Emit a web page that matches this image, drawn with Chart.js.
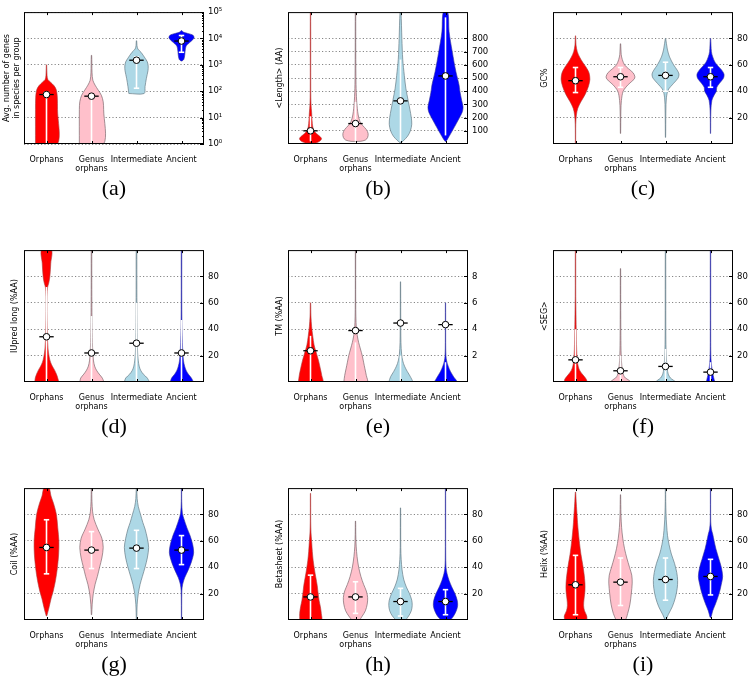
<!DOCTYPE html>
<html>
<head>
<meta charset="utf-8">
<script src="https://cdn.jsdelivr.net/npm/chart.js@4.4.0/dist/chart.umd.min.js"></script>
<style>
  body { margin: 0; background: #fff; width: 750px; height: 680px; overflow: hidden; position: relative; }
  .tag { position: absolute; width: 100px; height: 26px; line-height: 26px; text-align: center;
         font: 22px 'Liberation Serif', serif; color: #000; }
</style>
</head>
<body>
<script>
const categories = ['Orphans', ['Genus', 'orphans'], 'Intermediate', 'Ancient'];
const violinFill = ['#ff0000', '#ffc0cb', '#add8e6', '#0000ff'];
const violinEdge = ['rgba(170,60,60,0.75)', 'rgba(120,100,105,0.85)', 'rgba(100,120,130,0.85)', 'rgba(50,50,150,0.75)'];
const superscripts = ['\u2070', '\u00b9', '\u00b2', '\u00b3', '\u2074', '\u2075'];

const genesTicks = [1, 10, 100, 1000, 10000, 100000];
const lengthTicks = [100, 200, 300, 400, 500, 600, 700, 800];
const percentTicks = [20, 40, 60, 80];
const tmTicks = [2, 4, 6, 8];

// shapes: [value, half width in category units], bottom to top

// (a) genes per group
const genesMean = [75, 65, 1500, 8000];
const genesLow = [1, 1, 130, 3000];
const genesHigh = [90, 70, 2000, 13000];
const genesShapes = [
  [[1, 0.245], [20, 0.245], [60, 0.24], [110, 0.22], [160, 0.17], [220, 0.09], [280, 0.03], [400, 0.012], [1000, 0.004]],
  [[1, 0.27], [20, 0.27], [40, 0.26], [70, 0.22], [110, 0.15], [170, 0.08], [260, 0.03], [500, 0.012], [2300, 0.004]],
  [[82, 0.17], [150, 0.19], [310, 0.22], [600, 0.255], [900, 0.26], [1300, 0.24], [1800, 0.19], [3000, 0.1], [4000, 0.03], [5500, 0.01], [8200, 0.004]],
  [[1400, 0.01], [1600, 0.05], [2200, 0.07], [3200, 0.08], [5000, 0.1], [7000, 0.18], [9000, 0.25], [11000, 0.28], [13500, 0.25], [15500, 0.14], [17500, 0.04], [20000, 0.004]]
];

// (b) length
const lengthMean = [100, 155, 327, 516];
const lengthLow = [20, 20, 20, 65];
const lengthHigh = [210, 320, 640, 960];
const lengthShapes = [
  [[8, 0.12], [20, 0.2], [40, 0.245], [60, 0.2], [80, 0.13], [100, 0.08], [130, 0.05], [180, 0.035], [240, 0.025], [300, 0.012], [400, 0.006], [1000, 0.004]],
  [[20, 0.1], [30, 0.22], [50, 0.27], [80, 0.28], [110, 0.24], [140, 0.16], [170, 0.1], [220, 0.06], [270, 0.04], [330, 0.025], [450, 0.012], [700, 0.006], [1000, 0.004]],
  [[12, 0.02], [30, 0.08], [60, 0.16], [100, 0.22], [150, 0.25], [200, 0.24], [260, 0.21], [330, 0.17], [420, 0.12], [520, 0.085], [640, 0.05], [800, 0.03], [1000, 0.01]],
  [[20, 0.01], [40, 0.05], [75, 0.11], [130, 0.2], [180, 0.28], [240, 0.37], [280, 0.39], [330, 0.36], [400, 0.32], [450, 0.3], [550, 0.23], [700, 0.15], [850, 0.08], [1000, 0.05]]
];

// (c) GC%
const gcMean = [48, 51, 52, 51];
const gcLow = [39, 43, 40, 43];
const gcHigh = [58, 58, 62, 58];
const gcShapes = [
  [[0, 0.003], [15, 0.006], [22, 0.02], [27, 0.05], [32, 0.12], [38, 0.22], [44, 0.29], [49, 0.32], [54, 0.3], [58, 0.24], [62, 0.16], [66, 0.09], [70, 0.04], [75, 0.012], [82, 0.004]],
  [[8, 0.003], [25, 0.008], [33, 0.02], [40, 0.06], [45, 0.17], [49, 0.3], [51, 0.32], [54, 0.28], [57, 0.18], [60, 0.09], [64, 0.04], [68, 0.015], [76, 0.004]],
  [[5, 0.003], [25, 0.008], [35, 0.02], [41, 0.06], [46, 0.18], [50, 0.28], [53, 0.3], [56, 0.26], [60, 0.18], [66, 0.09], [72, 0.04], [80, 0.004]],
  [[8, 0.003], [25, 0.008], [33, 0.03], [37, 0.08], [40, 0.13], [43, 0.14], [46, 0.2], [50, 0.29], [53, 0.3], [56, 0.25], [59, 0.17], [62, 0.1], [66, 0.05], [70, 0.02], [80, 0.004]]
];

// (d) IUpred long
const iupredMean = [34.3, 22, 29.4, 22];
const iupredLow = [0, 0, 0, 0];
const iupredHigh = [72, 50, 60, 47];
const iupredShapes = [
  [[0, 0.26], [3, 0.25], [6, 0.22], [9, 0.18], [12, 0.13], [15, 0.09], [19, 0.06], [25, 0.035], [35, 0.02], [50, 0.012], [65, 0.012], [72, 0.025], [75, 0.05], [80, 0.075], [90, 0.095], [100, 0.11]],
  [[0, 0.26], [3, 0.24], [6, 0.17], [9, 0.11], [12, 0.07], [16, 0.045], [22, 0.03], [30, 0.02], [45, 0.012], [60, 0.008], [80, 0.006], [100, 0.005]],
  [[0, 0.27], [3, 0.24], [6, 0.15], [9, 0.09], [12, 0.06], [16, 0.04], [22, 0.025], [30, 0.018], [45, 0.012], [70, 0.008], [100, 0.006]],
  [[0, 0.25], [3, 0.22], [6, 0.15], [9, 0.1], [12, 0.07], [16, 0.045], [22, 0.03], [30, 0.02], [40, 0.012], [50, 0.008], [70, 0.006], [100, 0.005]]
];

// (e) TM
const tmMean = [2.37, 3.9, 4.47, 4.35];
const tmLow = [0, 0, 0, 0];
const tmHigh = [3.5, 3, 2, 1.5];
const tmShapes = [
  [[0, 0.27], [0.5, 0.25], [1, 0.22], [1.6, 0.18], [2.2, 0.13], [2.8, 0.08], [3.5, 0.05], [4.2, 0.025], [5, 0.01], [6, 0.004]],
  [[0, 0.26], [0.5, 0.24], [1, 0.21], [1.5, 0.18], [2, 0.15], [2.5, 0.11], [3, 0.07], [3.5, 0.04], [4, 0.02], [5, 0.008], [7, 0.004], [10, 0.003]],
  [[0, 0.26], [0.4, 0.22], [0.8, 0.15], [1.2, 0.09], [1.6, 0.05], [2.1, 0.025], [3, 0.01], [5, 0.005], [7.6, 0.003]],
  [[0, 0.25], [0.4, 0.18], [0.8, 0.11], [1.2, 0.06], [1.6, 0.025], [2, 0.01], [3, 0.004], [6, 0.003]]
];

// (f) SEG
const segMean = [16.8, 8.5, 11.8, 7.5];
const segLow = [0, 0, 0, 0];
const segHigh = [40, 20, 25, 15];
const segShapes = [
  [[0, 0.25], [2, 0.24], [4, 0.2], [6, 0.15], [9, 0.09], [12, 0.06], [16, 0.04], [25, 0.025], [40, 0.016], [55, 0.01], [65, 0.006], [100, 0.004]],
  [[0, 0.22], [1.5, 0.18], [3, 0.11], [5, 0.07], [8, 0.045], [12, 0.03], [20, 0.015], [35, 0.008], [60, 0.005], [86, 0.003]],
  [[0, 0.22], [1.5, 0.17], [3, 0.11], [6, 0.06], [10, 0.04], [15, 0.025], [25, 0.012], [40, 0.007], [100, 0.004]],
  [[0, 0.09], [2, 0.08], [5, 0.06], [8, 0.045], [12, 0.025], [18, 0.01], [30, 0.005], [100, 0.004]]
];

// (g) coil
const coilMean = [55, 53, 54.5, 53];
const coilLow = [35, 39, 39, 42];
const coilHigh = [76, 67, 68, 64];
const coilShapes = [
  [[3, 0.005], [6, 0.03], [10, 0.06], [16, 0.1], [22, 0.15], [30, 0.2], [39, 0.24], [50, 0.27], [60, 0.275], [70, 0.25], [80, 0.22], [88, 0.16], [94, 0.1], [100, 0.055]],
  [[4, 0.004], [12, 0.015], [20, 0.04], [27, 0.08], [33, 0.13], [40, 0.18], [47, 0.23], [55, 0.26], [62, 0.23], [69, 0.14], [76, 0.06], [82, 0.025], [90, 0.01], [100, 0.004]],
  [[0, 0.004], [12, 0.015], [20, 0.04], [27, 0.08], [33, 0.13], [40, 0.19], [47, 0.24], [55, 0.27], [62, 0.24], [69, 0.19], [74, 0.14], [80, 0.09], [86, 0.04], [92, 0.015], [100, 0.004]],
  [[0, 0.003], [22, 0.008], [27, 0.025], [32, 0.07], [38, 0.15], [44, 0.22], [51, 0.27], [57, 0.25], [64, 0.19], [70, 0.12], [76, 0.06], [81, 0.02], [90, 0.005], [100, 0.003]]
];

// (h) betasheet
const betaMean = [17.5, 17.5, 14, 14];
const betaLow = [0, 5, 3, 4];
const betaHigh = [34, 29, 24, 23];
const betaShapes = [
  [[0, 0.24], [5, 0.24], [10, 0.22], [15, 0.19], [20, 0.17], [26, 0.15], [32, 0.12], [38, 0.09], [45, 0.06], [52, 0.04], [60, 0.025], [66, 0.012], [75, 0.005], [96, 0.003]],
  [[0, 0.08], [3, 0.15], [7, 0.22], [12, 0.26], [17, 0.27], [22, 0.24], [27, 0.18], [33, 0.12], [40, 0.07], [48, 0.035], [56, 0.015], [65, 0.006], [75, 0.003]],
  [[0, 0.1], [3, 0.18], [7, 0.24], [11, 0.26], [15, 0.25], [20, 0.2], [25, 0.13], [31, 0.07], [38, 0.035], [46, 0.015], [55, 0.006], [85, 0.003]],
  [[0, 0.1], [3, 0.18], [7, 0.24], [11, 0.27], [15, 0.26], [20, 0.21], [25, 0.14], [30, 0.08], [35, 0.035], [40, 0.012], [50, 0.005], [100, 0.003]]
];

// (i) helix
const helixMean = [26.7, 28.7, 30.7, 33];
const helixLow = [4, 11, 15, 19];
const helixHigh = [49, 47, 47, 46];
const helixShapes = [
  [[0, 0.24], [3, 0.25], [7, 0.2], [11, 0.18], [16, 0.19], [22, 0.21], [28, 0.21], [35, 0.19], [42, 0.16], [50, 0.12], [58, 0.09], [66, 0.065], [74, 0.045], [82, 0.03], [90, 0.015], [97, 0.004]],
  [[0, 0.1], [5, 0.16], [12, 0.21], [20, 0.24], [28, 0.26], [34, 0.25], [40, 0.2], [47, 0.14], [54, 0.09], [62, 0.05], [70, 0.025], [80, 0.01], [95, 0.003]],
  [[0, 0.01], [4, 0.06], [10, 0.15], [17, 0.22], [24, 0.26], [30, 0.27], [36, 0.25], [43, 0.2], [50, 0.13], [57, 0.08], [64, 0.045], [72, 0.025], [80, 0.012], [90, 0.005], [100, 0.003]],
  [[2, 0.01], [7, 0.05], [13, 0.12], [20, 0.19], [27, 0.24], [33, 0.27], [40, 0.24], [47, 0.18], [54, 0.12], [60, 0.08], [65, 0.05], [69, 0.02], [75, 0.005], [100, 0.003]]
];

const panels = [
  { tag: '(a)', title: ['Avg. number of genes', 'in species per group'], type: 'logarithmic', min: 1, max: 100000, ticks: genesTicks, mean: genesMean, low: genesLow, high: genesHigh, shapes: genesShapes, caps: true },
  { tag: '(b)', title: '<Length> (AA)', type: 'linear', min: 0, max: 1000, ticks: lengthTicks, mean: lengthMean, low: lengthLow, high: lengthHigh, shapes: lengthShapes, caps: false },
  { tag: '(c)', title: 'GC%', type: 'linear', min: 0, max: 100, ticks: percentTicks, mean: gcMean, low: gcLow, high: gcHigh, shapes: gcShapes, caps: true },
  { tag: '(d)', title: 'IUpred long (%AA)', type: 'linear', min: 0, max: 100, ticks: percentTicks, mean: iupredMean, low: iupredLow, high: iupredHigh, shapes: iupredShapes, caps: false },
  { tag: '(e)', title: 'TM (%AA)', type: 'linear', min: 0, max: 10, ticks: tmTicks, mean: tmMean, low: tmLow, high: tmHigh, shapes: tmShapes, caps: false },
  { tag: '(f)', title: '<SEG>', type: 'linear', min: 0, max: 100, ticks: percentTicks, mean: segMean, low: segLow, high: segHigh, shapes: segShapes, caps: false },
  { tag: '(g)', title: 'Coil (%AA)', type: 'linear', min: 0, max: 100, ticks: percentTicks, mean: coilMean, low: coilLow, high: coilHigh, shapes: coilShapes, caps: true },
  { tag: '(h)', title: 'Betasheet (%AA)', type: 'linear', min: 0, max: 100, ticks: percentTicks, mean: betaMean, low: betaLow, high: betaHigh, shapes: betaShapes, caps: true },
  { tag: '(i)', title: 'Helix (%AA)', type: 'linear', min: 0, max: 100, ticks: percentTicks, mean: helixMean, low: helixLow, high: helixHigh, shapes: helixShapes, caps: true }
];

const plotLefts = [24, 288, 553];
const plotTops = [9, 247, 485];
const PLOT_W = 180, PLOT_H = 135, PAD_TOP = 6, AXIS_R = 36, AXIS_B = 34;
const FONT = 8;

Chart.defaults.font.family = "'DejaVu Sans', sans-serif";
Chart.defaults.color = '#000';

// black box round the plot, inward ticks like matplotlib
const framePlugin = {
  id: 'frame',
  afterDraw(chart) {
    const { ctx, chartArea: a, scales } = chart;
    ctx.save();
    ctx.strokeStyle = '#000';
    ctx.lineWidth = 1;
    ctx.strokeRect(a.left + 0.5, a.top + 0.5, a.width - 1, a.height - 1);
    ctx.beginPath();
    categories.forEach((c, i) => {
      const x = Math.round(scales.x.getPixelForValue(i)) + 0.5;
      ctx.moveTo(x, a.top); ctx.lineTo(x, a.top + 3);
      ctx.moveTo(x, a.bottom); ctx.lineTo(x, a.bottom - 3);
    });
    scales.y.ticks.forEach((t) => {
      const y = Math.round(scales.y.getPixelForValue(t.value)) + 0.5;
      ctx.moveTo(a.right, y); ctx.lineTo(a.right - 4, y);
    });
    if (scales.y.type === 'logarithmic') {
      for (let d = 0; d < 5; d++) {
        for (let m = 2; m < 10; m++) {
          const y = Math.round(scales.y.getPixelForValue(m * Math.pow(10, d))) + 0.5;
          ctx.moveTo(a.right, y); ctx.lineTo(a.right - 2, y);
        }
      }
    }
    ctx.stroke();
    ctx.restore();
  }
};

function violinPoints(shape, i) {
  const left = shape.map(([v, w]) => ({ x: i - w, y: v }));
  const right = shape.slice().reverse().map(([v, w]) => ({ x: i + w, y: v }));
  return left.concat(right, [left[0]]);
}

function buildDatasets(p) {
  const sets = [];
  p.shapes.forEach((shape, i) => {
    sets.push({
      data: violinPoints(shape, i),
      fill: 'shape',
      backgroundColor: violinFill[i],
      borderColor: violinEdge[i],
      borderWidth: 0.8,
      pointRadius: 0,
      tension: 0.3,
      order: 5
    });
    sets.push({
      data: [{ x: i, y: p.low[i] }, { x: i, y: p.high[i] }],
      borderColor: '#fff', borderWidth: 1.6, pointRadius: 0, fill: false, order: 4
    });
    if (p.caps) {
      [p.low[i], p.high[i]].forEach((v) => {
        sets.push({
          data: [{ x: i - 0.06, y: v }, { x: i + 0.06, y: v }],
          borderColor: '#fff', borderWidth: 1.6, pointRadius: 0, fill: false, order: 4
        });
      });
    }
    sets.push({
      data: [{ x: i - 0.16, y: p.mean[i] }, { x: i + 0.16, y: p.mean[i] }],
      borderColor: '#000', borderWidth: 1.3, pointRadius: 0, fill: false, order: 2
    });
  });
  sets.push({
    data: p.mean.map((m, i) => ({ x: i, y: m })),
    showLine: false,
    pointRadius: 3.3,
    pointBackgroundColor: '#fff',
    pointBorderColor: '#000',
    pointBorderWidth: 1,
    order: 1
  });
  sets.forEach((s) => { s.xAxisID = 'x'; s.yAxisID = 'y'; });
  return sets;
}

panels.forEach((p, k) => {
  const col = k % 3, row = Math.floor(k / 3);
  const axisL = col === 0 ? 24 : 28;
  const w = axisL + PLOT_W + AXIS_R, h = PAD_TOP + PLOT_H + AXIS_B;
  const canvas = document.createElement('canvas');
  canvas.width = w;
  canvas.height = h;
  canvas.style.cssText = `position:absolute;left:${plotLefts[col] - axisL}px;top:${plotTops[row] - PAD_TOP}px;width:${w}px;height:${h}px`;
  document.body.appendChild(canvas);

  const titleCenter = Array.isArray(p.title) ? 7 : (col === 0 ? 15 : 20);
  const titlePad = titleCenter - FONT * 1.2 / 2;

  new Chart(canvas, {
    type: 'line',
    data: { datasets: buildDatasets(p) },
    plugins: [framePlugin],
    options: {
      responsive: false,
      animation: false,
      devicePixelRatio: 1,
      events: [],
      layout: { padding: { top: PAD_TOP, left: 0, right: 0, bottom: 0 } },
      plugins: { legend: { display: false }, tooltip: { enabled: false } },
      scales: {
        x: {
          type: 'linear',
          min: -0.5,
          max: 3.5,
          afterBuildTicks: (axis) => { axis.ticks = categories.map((c, i) => ({ value: i })); },
          afterFit: (axis) => { axis.height = AXIS_B; },
          ticks: {
            autoSkip: false, maxRotation: 0, minRotation: 0, padding: 3,
            font: { size: FONT },
            callback: (v) => categories[v]
          },
          grid: { display: false },
          border: { display: false }
        },
        y: {
          type: p.type,
          position: 'right',
          min: p.min,
          max: p.max,
          afterBuildTicks: (axis) => { axis.ticks = p.ticks.map((v) => ({ value: v })); },
          afterFit: (axis) => { axis.width = AXIS_R; },
          ticks: {
            padding: 4,
            font: { size: 8.5 },
            callback: (v) => p.type === 'logarithmic' ? '10' + superscripts[Math.round(Math.log10(v))] : String(v)
          },
          grid: { color: 'rgba(0,0,0,0.6)', lineWidth: 0.8, drawTicks: false },
          border: { display: false, dash: [1.2, 2.2] }
        },
        yt: {
          type: 'linear',
          position: 'left',
          min: 0,
          max: 1,
          afterFit: (axis) => { axis.width = axisL; },
          ticks: { display: false },
          grid: { display: false },
          border: { display: false },
          title: { display: true, text: p.title, font: { size: FONT }, padding: { top: titlePad, bottom: 0 } }
        }
      }
    }
  });

  const tag = document.createElement('div');
  tag.className = 'tag';
  tag.textContent = p.tag;
  tag.style.left = (plotLefts[col] + PLOT_W / 2 - 50) + 'px';
  tag.style.top = (plotTops[row] + 179 - 13) + 'px';
  document.body.appendChild(tag);
});
</script>
</body>
</html>
